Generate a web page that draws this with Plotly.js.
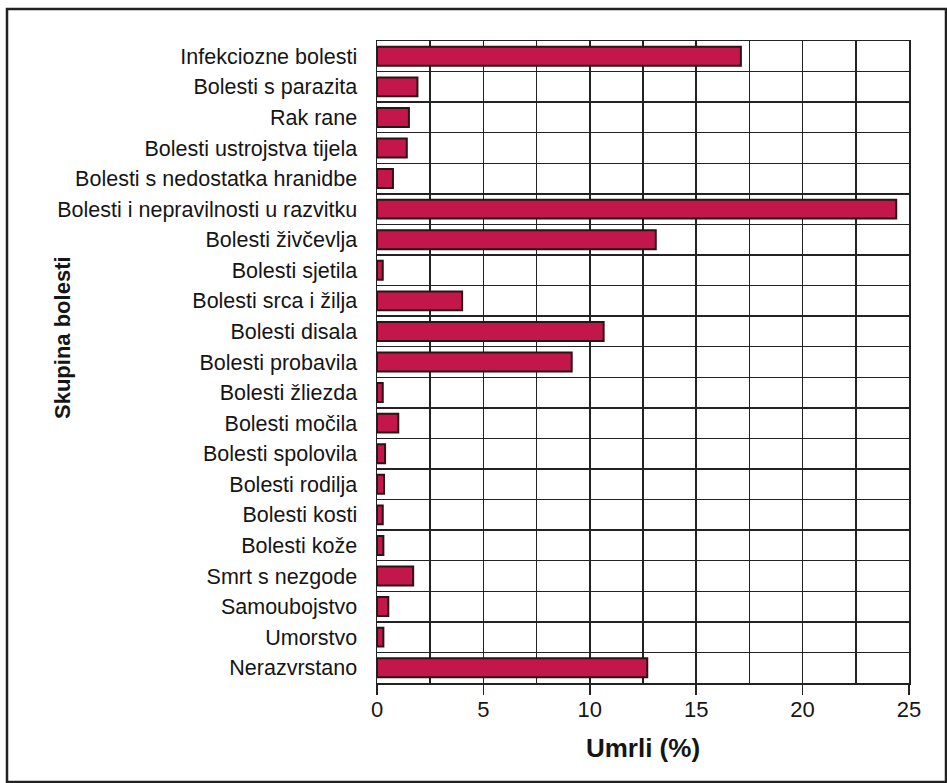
<!DOCTYPE html>
<html>
<head>
<meta charset="utf-8">
<script src="https://cdn.plot.ly/plotly-3.0.1.min.js"></script>
<style>html,body{margin:0;padding:0;background:#fff;}#chart{width:947px;height:783px;}</style>
</head>
<body>
<div id="chart"></div>
<script>
const categories = [
  "Infekciozne bolesti",
  "Bolesti s parazita",
  "Rak rane",
  "Bolesti ustrojstva tijela",
  "Bolesti s nedostatka hranidbe",
  "Bolesti i nepravilnosti u razvitku",
  "Bolesti živčevlja",
  "Bolesti sjetila",
  "Bolesti srca i žilja",
  "Bolesti disala",
  "Bolesti probavila",
  "Bolesti žliezda",
  "Bolesti močila",
  "Bolesti spolovila",
  "Bolesti rodilja",
  "Bolesti kosti",
  "Bolesti kože",
  "Smrt s nezgode",
  "Samoubojstvo",
  "Umorstvo",
  "Nerazvrstano"
];
const umrli = [17.1, 1.9, 1.5, 1.4, 0.75, 24.4, 13.1, 0.27, 4.0, 10.65, 9.15, 0.27, 1.0, 0.38, 0.33, 0.27, 0.3, 1.7, 0.53, 0.3, 12.7];
const xTicks = [0, 5, 10, 15, 20, 25];
const xTitle = "Umrli (%)";
const yTitle = "Skupina bolesti";

const W = 947, H = 783, L = 377, R = 38, T = 41, B = 100;
const pw = W - L - R, ph = H - T - B;
const px = v => (v - L) / pw;       // pixel x -> paper
const py = v => (H - B - v) / ph;   // pixel y -> paper

const trace = {
  type: "bar",
  orientation: "h",
  y: categories,
  x: umrli,
  marker: {color: "#C3164A", line: {color: "#2a1416", width: 2}},
  hoverinfo: "x+y"
};

const layout = {
  width: W, height: H,
  margin: {l: L, r: R, t: T, b: B},
  paper_bgcolor: "#ffffff",
  plot_bgcolor: "#ffffff",
  font: {family: "Liberation Sans, Arial, sans-serif", color: "#151515", size: 21.5},
  bargap: 0.38,
  showlegend: false,
  xaxis: {
    range: [0, 25],
    tickvals: xTicks,
    ticks: "outside", ticklen: 10, tickwidth: 1.5, tickcolor: "#222",
    tickfont: {size: 22},
    ticklabelstandoff: -4,
    showgrid: true, gridcolor: "#222", gridwidth: 1.5,
    minor: {dtick: 2.5, showgrid: true, gridcolor: "#222", gridwidth: 1.5, ticks: ""},
    showline: true, linecolor: "#222", linewidth: 1.5, mirror: true,
    zeroline: false,
    title: {text: "<b>" + xTitle + "</b>", font: {size: 26}, standoff: 18}
  },
  yaxis: {
    type: "category",
    autorange: "reversed",
    tickson: "boundaries",
    ticks: "", ticklabelstandoff: 14,
    tickfont: {size: 21.5},
    showgrid: true, gridcolor: "#222", gridwidth: 1.5,
    showline: true, linecolor: "#222", linewidth: 1.5, mirror: true
  },
  annotations: [
    {xref: "paper", yref: "paper", x: px(62), y: py(338), text: "<b>" + yTitle + "</b>",
     textangle: -90, showarrow: false, font: {size: 22, color: "#151515"},
     xanchor: "center", yanchor: "middle"}
  ],
  shapes: [
    {type: "rect", xref: "paper", yref: "paper", layer: "below",
     x0: px(7), x1: px(946), y0: py(782), y1: py(9),
     line: {color: "#222", width: 2.5}}
  ]
};

Plotly.newPlot("chart", [trace], layout, {displayModeBar: false, staticPlot: true});
</script>
</body>
</html>
